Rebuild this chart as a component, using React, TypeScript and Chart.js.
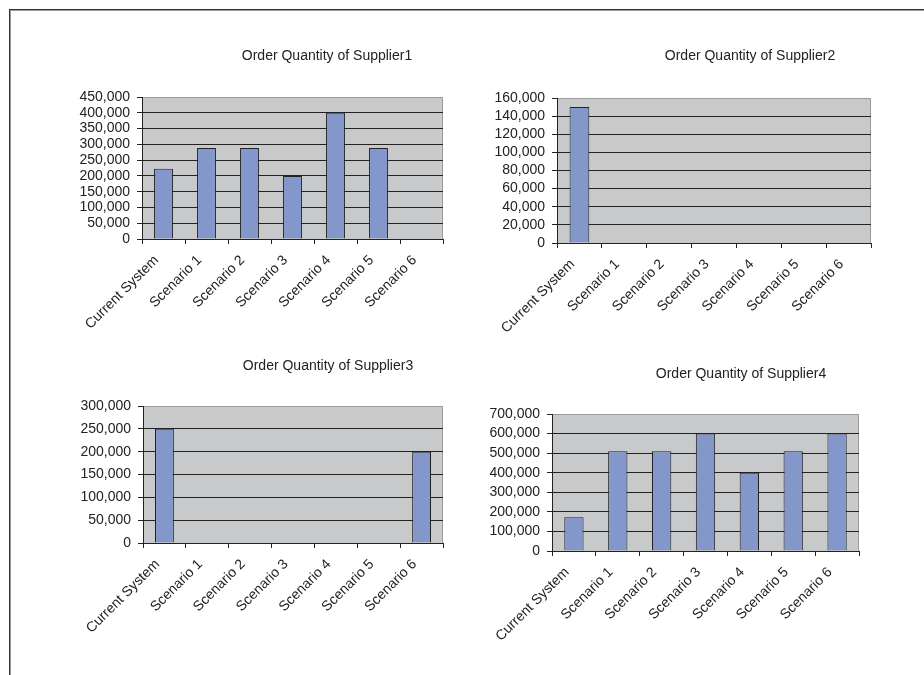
import React, { useEffect, useRef } from "react";
import { Chart, registerables } from "chart.js";

Chart.register(...registerables);

// ---------- data ----------
const categories = [
  "Current System",
  "Scenario 1",
  "Scenario 2",
  "Scenario 3",
  "Scenario 4",
  "Scenario 5",
  "Scenario 6",
];
const titles = [
  "Order Quantity of Supplier1",
  "Order Quantity of Supplier2",
  "Order Quantity of Supplier3",
  "Order Quantity of Supplier4",
];
const supplier1 = [223000, 288000, 288000, 200000, 400000, 288000, 0];
const supplier2 = [150000, 0, 0, 0, 0, 0, 0];
const supplier3 = [250000, 0, 0, 0, 0, 0, 200000];
const supplier4 = [172000, 510000, 510000, 600000, 400000, 510000, 600000];
const axisMax = [450000, 160000, 300000, 700000];
const axisStep = [50000, 20000, 50000, 100000];

// ---------- styles / layout ----------
const FONT = "'Liberation Sans', Arial, Helvetica, sans-serif";
const TEXT = "#222222";
const PLOT_BG = "#C8C9CB";
const BAR_FILL = "#8497CB";
const BAR_EDGE = "#222222";
const GRID = "#222222";
const FRAME = "#9A9A9A";

const panels = [
  { left: 0, top: 0, w: 462, h: 337, pad: { left: 72, top: 97, right: 19, bottom: 8 }, tx: 327, ty: 60 },
  { left: 462, top: 0, w: 462, h: 337, pad: { left: 25, top: 98, right: 53, bottom: 4 }, tx: 288, ty: 60 },
  { left: 0, top: 337, w: 462, h: 338, pad: { left: 73, top: 69, right: 19, bottom: 42 }, tx: 328, ty: 33 },
  { left: 462, top: 337, w: 462, h: 338, pad: { left: 20, top: 77, right: 65, bottom: 34 }, tx: 279, ty: 41 },
];

const seriesList = [supplier1, supplier2, supplier3, supplier4];

const plotFrame = {
  id: "plotFrame",
  beforeDraw(chart: any) {
    const { ctx, chartArea: a } = chart;
    ctx.save();
    ctx.fillStyle = PLOT_BG;
    ctx.fillRect(a.left, a.top, a.right - a.left, a.bottom - a.top);
    ctx.strokeStyle = FRAME;
    ctx.lineWidth = 1;
    const t = Math.round(a.top) + 0.5;
    const r = Math.round(a.right) - 0.5;
    ctx.beginPath();
    ctx.moveTo(a.left, t);
    ctx.lineTo(r, t);
    ctx.lineTo(r, a.bottom);
    ctx.stroke();
    ctx.restore();
  },
};

const placedTitle = {
  id: "placedTitle",
  afterDraw(chart: any, _args: any, opts: any) {
    const ctx = chart.ctx;
    ctx.save();
    ctx.font = `14px ${FONT}`;
    ctx.fillStyle = TEXT;
    ctx.textAlign = "center";
    ctx.textBaseline = "alphabetic";
    ctx.fillText(opts.text, opts.x, opts.y);
    ctx.restore();
  },
};

function Panel({ index }: { index: number }) {
  const ref = useRef<HTMLCanvasElement | null>(null);
  const p = panels[index];
  useEffect(() => {
    if (!ref.current) return;
    const max = axisMax[index];
    const chart = new Chart(ref.current, {
      type: "bar",
      data: {
        labels: categories,
        datasets: [
          {
            data: seriesList[index],
            backgroundColor: BAR_FILL,
            borderColor: BAR_EDGE,
            borderWidth: 1,
            barPercentage: 0.44,
            categoryPercentage: 1,
          },
        ],
      },
      options: {
        responsive: false,
        animation: false,
        devicePixelRatio: 1,
        layout: { padding: p.pad },
        plugins: {
          legend: { display: false },
          tooltip: { enabled: false },
          title: { display: false },
          placedTitle: { text: titles[index], x: p.tx, y: p.ty },
        } as any,
        scales: {
          x: {
            afterFit: (s: any) => {
              s.height = 90;
            },
            grid: {
              offset: true,
              drawOnChartArea: false,
              drawTicks: true,
              tickLength: 5,
              color: GRID,
              tickColor: GRID,
            },
            border: { display: true, color: GRID, width: 1 },
            ticks: {
              autoSkip: false,
              maxRotation: 45,
              minRotation: 45,
              padding: 8,
              labelOffset: -7,
              color: TEXT,
              font: { family: FONT, size: 14 },
            },
          },
          y: {
            min: 0,
            max: max,
            afterFit: (s: any) => {
              s.width = 70;
            },
            grid: {
              drawTicks: true,
              tickLength: 5,
              color: (c: any) => (c.tick && c.tick.value === max ? "rgba(0,0,0,0)" : GRID),
              tickColor: GRID,
            },
            border: { display: true, color: GRID, width: 1 },
            ticks: {
              stepSize: axisStep[index],
              autoSkip: false,
              maxTicksLimit: 20,
              padding: 7,
              color: TEXT,
              font: { family: FONT, size: 14, lineHeight: 1 },
              callback: (v: any) => Number(v).toLocaleString("en-US"),
            },
          },
        },
      },
      plugins: [plotFrame, placedTitle],
    });
    return () => chart.destroy();
  }, [index]);
  return (
    <canvas
      ref={ref}
      width={p.w}
      height={p.h}
      style={{ position: "absolute", left: p.left, top: p.top, width: p.w, height: p.h }}
    />
  );
}

export default function App() {
  return (
    <div style={{ position: "absolute", left: 0, top: 0, width: 924, height: 675, background: "#ffffff", overflow: "hidden" }}>
      <div
        style={{
          position: "absolute",
          left: 9,
          top: 9,
          width: 930,
          height: 700,
          borderTop: "1px solid #333",
          borderLeft: "1px solid #333",
          boxShadow: "inset 1px 1px 0 #999",
        }}
      />
      {panels.map((_, i) => (
        <Panel key={i} index={i} />
      ))}
    </div>
  );
}
